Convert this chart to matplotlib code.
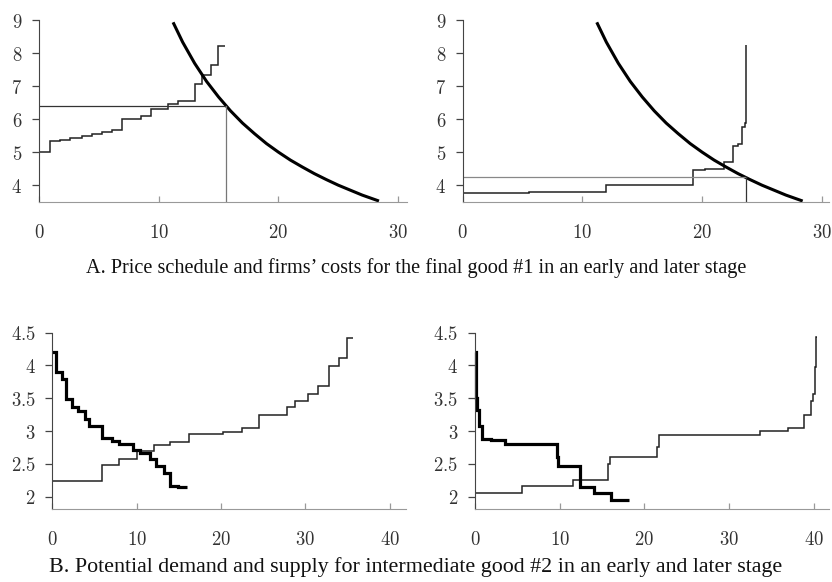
import matplotlib
matplotlib.use("Agg")
import matplotlib.pyplot as plt
from matplotlib.ticker import FuncFormatter, FixedLocator

plt.rcParams["mathtext.fontset"] = "cm"

# ---- Panel A: price schedule (shared) and firms' cost steps ----
price_q = [11.2, 12, 13, 14, 15, 16, 17, 18, 19, 20, 21, 22, 23, 24, 25, 26, 27, 28.4]
price_p = [8.93, 8.33, 7.69, 7.14, 6.67, 6.25, 5.88, 5.56, 5.26, 5.0, 4.76, 4.55,
           4.35, 4.17, 4.0, 3.85, 3.70, 3.52]

early_cost_edges = [0, 0.92, 1.75, 2.59, 3.56, 4.46, 5.24, 6.07, 6.96, 8.52, 9.36,
                    10.8, 11.64, 13.03, 13.6, 14.34, 14.93, 15.54]
early_cost = [5.01, 5.33, 5.38, 5.43, 5.48, 5.56, 5.61, 5.67, 5.99, 6.09, 6.32,
              6.45, 6.55, 7.05, 7.35, 7.64, 8.21]
early_eq = (15.6, 6.41)

later_cost_edges = [0, 5.5, 11.95, 19.27, 20.24, 21.8, 22.6, 23.03, 23.36, 23.56,
                    23.64, 23.66]
later_cost = [3.76, 3.79, 4.02, 4.45, 4.48, 4.71, 5.18, 5.24, 5.77, 5.87, 8.24]
later_eq = (23.64, 4.25)

# ---- Panel B: potential demand (thick) and supply (thin) ----
b_early_dem_edges = [0, 0.4, 1.1, 1.62, 2.37, 3.08, 3.87, 4.39, 5.93, 7.04, 7.9,
                     9.6, 10.4, 11.6, 12.3, 13.2, 13.9, 14.9, 16.0]
b_early_dem = [4.2, 3.905, 3.79, 3.49, 3.37, 3.30, 3.19, 3.08, 2.89, 2.85, 2.80,
               2.71, 2.66, 2.58, 2.47, 2.36, 2.16, 2.14]
b_early_sup_edges = [0, 5.93, 7.9, 10.0, 12.0, 14.0, 16.2, 20.3, 22.5, 24.5, 27.8,
                     28.8, 30.3, 31.5, 32.8, 34.0, 35.0, 35.7]
b_early_sup = [2.244, 2.48, 2.58, 2.70, 2.78, 2.83, 2.95, 2.99, 3.05, 3.245, 3.36,
               3.46, 3.56, 3.68, 3.99, 4.11, 4.42]

b_later_dem_edges = [0, 0.08, 0.2, 0.45, 0.87, 1.85, 3.5, 9.7, 9.85, 12.35, 14.1,
                     16.1, 18.2]
b_later_dem = [4.2, 3.5, 3.32, 3.08, 2.88, 2.86, 2.8, 2.6, 2.47, 2.14, 2.06, 1.95]
b_later_sup_edges = [0, 5.6, 11.57, 15.75, 15.9, 21.5, 21.7, 33.7, 36.9, 38.8,
                     39.7, 39.96, 40.2, 40.3, 40.35]
b_later_sup = [2.05, 2.16, 2.25, 2.5, 2.61, 2.75, 2.94, 3.0, 3.04, 3.245, 3.46,
               3.56, 3.98, 4.43]

a_yticks = [4, 5, 6, 7, 8, 9]
a_xticks = [0, 10, 20, 30]
b_yticks = [2, 2.5, 3, 3.5, 4, 4.5]
b_xticks = [0, 10, 20, 30, 40]

caption_a = "A. Price schedule and firms\u2019 costs for the final good #1 in an early and later stage"
caption_b = "B. Potential demand and supply for intermediate good #2 in an early and later stage"

W, H = 832, 582
fig = plt.figure(figsize=(W / 100, H / 100), dpi=100)


def px_axes(left, right, top, bottom):
    return fig.add_axes([left / W, 1 - bottom / H, (right - left) / W, (bottom - top) / H])


def style(ax, xlim, ylim, xt, yt):
    ax.set_xlim(*xlim)
    ax.set_ylim(*ylim)
    for s in ("top", "right"):
        ax.spines[s].set_visible(False)
    ax.spines["left"].set_color("#444444")
    ax.spines["bottom"].set_color("#999999")
    ax.spines["left"].set_bounds(ylim[0], yt[-1])
    ax.xaxis.set_major_locator(FixedLocator(xt))
    ax.yaxis.set_major_locator(FixedLocator(yt))
    fmt = FuncFormatter(lambda v, p: r"$%g$" % v)
    ax.xaxis.set_major_formatter(fmt)
    ax.yaxis.set_major_formatter(fmt)
    ax.tick_params(axis="x", direction="in", length=4.3, width=0.9, color="#999999",
                   pad=15, labelsize=13.5, labelcolor="#333333")
    ax.tick_params(axis="y", direction="out", length=5, width=0.9, color="#444444",
                   pad=7, labelsize=13.5, labelcolor="#333333")


# Panel A, early stage
ax1 = px_axes(39, 406.5, 20, 201.7)
style(ax1, (0, 30.7), (3.5, 9), a_xticks, a_yticks)
ax1.stairs(early_cost, early_cost_edges, baseline=None, color="#222222", lw=1.1, clip_on=False)
ax1.plot(price_q, price_p, color="black", lw=2.2, clip_on=False, solid_capstyle="butt")
ax1.plot([0, early_eq[0]], [early_eq[1], early_eq[1]], color="#333333", lw=0.9)
ax1.plot([early_eq[0], early_eq[0]], [3.5, early_eq[1]], color="#777777", lw=0.9)

# Panel A, later stage
ax2 = px_axes(462.7, 829, 20, 201.7)
style(ax2, (0, 30.6), (3.5, 9), a_xticks, a_yticks)
ax2.stairs(later_cost, later_cost_edges, baseline=None, color="#222222", lw=1.1, clip_on=False)
ax2.plot(price_q, price_p, color="black", lw=2.2, clip_on=False, solid_capstyle="butt")
ax2.plot([0, later_eq[0]], [later_eq[1], later_eq[1]], color="#888888", lw=0.9)
ax2.plot([later_eq[0], later_eq[0]], [3.5, later_eq[1]], color="#333333", lw=0.9)

# Panel B, early stage
ax3 = px_axes(52.3, 406.5, 332.7, 509)
style(ax3, (0, 42), (1.81, 4.5), b_xticks, b_yticks)
ax3.stairs(b_early_sup, b_early_sup_edges, baseline=None, color="#222222", lw=1.1, clip_on=False)
ax3.stairs(b_early_dem, b_early_dem_edges, baseline=None, color="black", lw=2.3, clip_on=False)

# Panel B, later stage
ax4 = px_axes(475, 829, 332.7, 509)
style(ax4, (0, 41.8), (1.81, 4.5), b_xticks, b_yticks)
ax4.stairs(b_later_sup, b_later_sup_edges, baseline=None, color="#222222", lw=1.1, clip_on=False)
ax4.stairs(b_later_dem, b_later_dem_edges, baseline=None, color="black", lw=2.3, clip_on=False)

fig.text(0.5, 1 - 268 / H, caption_a, ha="center", va="center",
         family="Liberation Serif", fontsize=14.6, color="#111111")
fig.text(0.5, 1 - 567 / H, caption_b, ha="center", va="center",
         family="Liberation Serif", fontsize=15.8, color="#111111")

fig.savefig("out.png", dpi=100, facecolor="white")
